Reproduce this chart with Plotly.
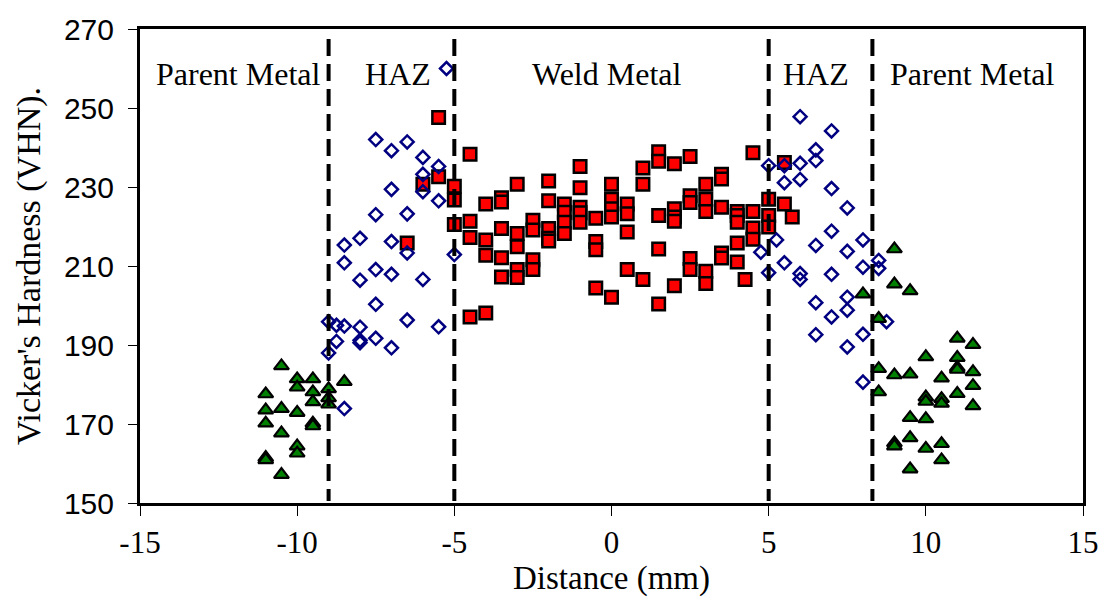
import plotly.graph_objects as go

# ---- data ----
weld_x = [-6.5, -6.0, -5.5, -5.5, -5.0, -5.0, -5.0, -4.5, -4.5, -4.5, -4.5,
          -4.0, -4.0, -4.0, -4.0, -3.5, -3.5, -3.5, -3.5, -3.5,
          -3.0, -3.0, -3.0, -3.0, -3.0, -2.5, -2.5, -2.5, -2.5,
          -2.0, -2.0, -2.0, -2.0, -2.0, -1.5, -1.5, -1.5, -1.5,
          -1.0, -1.0, -1.0, -1.0, -1.0, -0.5, -0.5, -0.5, -0.5,
          0.0, 0.0, 0.0, 0.0, 0.0, 0.5, 0.5, 0.5, 0.5,
          1.0, 1.0, 1.0, 1.5, 1.5, 1.5, 1.5, 1.5,
          2.0, 2.0, 2.0, 2.0, 2.0, 2.5, 2.5, 2.5, 2.5, 2.5,
          3.0, 3.0, 3.0, 3.0, 3.0, 3.5, 3.5, 3.5, 3.5, 3.5,
          4.0, 4.0, 4.0, 4.0, 4.0, 4.5, 4.5, 4.5, 4.5, 4.25,
          5.0, 5.0, 5.0, 5.5, 5.5, 5.75]
weld_y = [215.8, 230.7, 247.6, 232.6, 230.2, 226.7, 220.5, 238.3, 221.3, 217.2, 197.1,
          225.7, 216.6, 212.7, 198.1, 227.3, 226.2, 219.5, 212.1, 207.2,
          230.7, 218.2, 214.9, 209.1, 207.1, 221.6, 219.1, 211.6, 209.1,
          231.5, 226.5, 219.5, 217.0, 216.3, 225.7, 223.6, 221.1, 218.2,
          235.2, 229.8, 224.9, 223.5, 221.1, 222.1, 216.2, 214.1, 204.4,
          230.7, 226.9, 224.5, 222.4, 202.1, 225.7, 223.2, 218.6, 209.1,
          234.8, 230.7, 206.6, 238.9, 236.5, 222.8, 214.3, 200.4,
          235.9, 224.5, 222.4, 221.3, 205.0, 237.7, 227.8, 226.1, 211.9, 209.1,
          230.7, 226.9, 223.8, 208.7, 205.6, 233.2, 232.0, 224.9, 213.3, 212.0,
          223.8, 222.8, 221.1, 215.8, 211.0, 238.7, 223.8, 219.6, 216.8, 206.6,
          226.9, 222.8, 219.9, 236.2, 225.7, 222.4]

haz_x = [-9.0, -9.0, -8.75, -8.75, -8.5, -8.5, -8.5, -8.5,
         -8.0, -8.0, -8.0, -8.0, -8.0, -7.5, -7.5, -7.5, -7.5, -7.5,
         -7.0, -7.0, -7.0, -7.0, -7.0, -6.5, -6.5, -6.5, -6.5,
         -6.0, -6.0, -6.0, -6.0, -5.5, -5.5, -5.5, -5.25, -5.0,
         4.75, 5.0, 5.0, 5.25, 5.5, 5.5, 5.5,
         6.0, 6.0, 6.0, 6.0, 6.0, 6.5, 6.5, 6.5, 6.5, 6.5,
         7.0, 7.0, 7.0, 7.0, 7.0, 7.5, 7.5, 7.5, 7.5, 7.5,
         8.0, 8.0, 8.0, 8.0, 8.5, 8.5, 8.75]
haz_y = [195.9, 188.0, 190.9, 195.0, 215.3, 210.8, 194.8, 173.9,
         217.0, 206.4, 194.5, 191.2, 190.6, 242.0, 223.0, 209.1, 200.3, 191.7,
         239.2, 229.4, 216.2, 207.9, 189.3, 241.4, 223.2, 213.3, 196.3,
         237.5, 233.2, 228.8, 206.6, 235.2, 226.5, 194.6, 260.0, 212.9,
         213.5, 235.4, 208.3, 216.6, 235.4, 231.1, 210.8,
         247.8, 236.0, 231.9, 208.1, 206.6, 239.4, 236.7, 215.2, 200.7, 192.6,
         244.2, 229.6, 218.8, 207.9, 197.1, 224.7, 213.7, 202.1, 198.8, 189.5,
         216.6, 209.7, 192.7, 180.6, 211.4, 209.4, 195.9]

parent_x = [-11.0, -11.0, -11.0, -11.0, -11.0, -10.5, -10.5, -10.5, -10.5,
            -10.0, -10.0, -10.0, -10.0, -10.0, -9.5, -9.5, -9.5, -9.5, -9.5,
            -9.0, -9.0, -9.0, -8.5,
            8.0, 8.5, 8.5, 8.5, 9.0, 9.0, 9.0, 9.0, 9.0,
            9.5, 9.5, 9.5, 9.5, 9.5, 10.0, 10.0, 10.0, 10.0, 10.0,
            10.5, 10.5, 10.5, 10.5, 10.5, 11.0, 11.0, 11.0, 11.0, 11.0,
            11.5, 11.5, 11.5, 11.5]
parent_y = [177.6, 173.5, 170.2, 161.5, 160.9, 184.7, 173.9, 167.7, 157.2,
            181.4, 179.3, 172.9, 164.4, 162.6, 181.4, 178.1, 175.6, 170.2, 169.5,
            178.9, 176.6, 175.0, 180.7,
            202.9, 196.7, 184.0, 178.1, 214.3, 205.4, 182.4, 165.2, 164.4,
            203.7, 182.6, 171.6, 166.5, 158.6, 187.0, 176.8, 175.7, 171.3, 163.8,
            181.6, 176.4, 175.2, 165.0, 160.9, 191.7, 186.8, 184.3, 183.8, 177.7,
            190.1, 183.2, 179.7, 174.6]

zone_boundaries = [-9.0, -5.0, 5.0, 8.3]
zone_labels = ["Parent Metal", "HAZ", "Weld Metal", "HAZ", "Parent Metal"]
zone_label_x = [-11.86, -6.78, -0.16, 6.5, 11.49]

x_ticks = [-15, -10, -5, 0, 5, 10, 15]
y_ticks = [150, 170, 190, 210, 230, 250, 270]

# ---- figure ----
fig = go.Figure()
fig.add_trace(go.Scatter(x=weld_x, y=weld_y, mode="markers", name="Weld Metal",
                         marker=dict(symbol="square", size=12.5, color="#FF0000",
                                     line=dict(color="black", width=2.5))))
fig.add_trace(go.Scatter(x=haz_x, y=haz_y, mode="markers", name="HAZ",
                         marker=dict(symbol="diamond-open", size=10, color="#000080",
                                     line=dict(color="#000080", width=2.5))))
fig.add_trace(go.Scatter(x=parent_x, y=parent_y, mode="markers", name="Parent Metal",
                         marker=dict(symbol="triangle-up", size=13, color="#008000",
                                     line=dict(color="black", width=2.2))))

for b in zone_boundaries:
    fig.add_shape(type="line", x0=b, x1=b, y0=267.5, y1=150.5, xref="x", yref="y",
                  line=dict(color="black", width=4, dash="17px,8px"), layer="above")

for lab, lx in zip(zone_labels, zone_label_x):
    fig.add_annotation(x=lx, y=258.6, xref="x", yref="y", text=lab, showarrow=False,
                       font=dict(family="Liberation Serif", size=32, color="black"),
                       xanchor="center", yanchor="middle")

fig.update_layout(
    width=1112, height=601,
    margin=dict(l=140, r=29, t=20, b=98),
    paper_bgcolor="white", plot_bgcolor="white",
    showlegend=False,
    xaxis=dict(range=[-15, 15], tickvals=x_ticks, ticktext=[str(v) for v in x_ticks],
               showgrid=False, zeroline=False, showline=True, linecolor="black",
               linewidth=3, mirror=True, ticks="outside", ticklen=10, tickwidth=1,
               tickcolor="black",
               tickfont=dict(family="Liberation Serif", size=31, color="black"),
               title=dict(text="Distance (mm)", standoff=2,
                          font=dict(family="Liberation Serif", size=33, color="black"))),
    yaxis=dict(range=[150, 270], tickvals=y_ticks, ticktext=[str(v) for v in y_ticks],
               showgrid=False, zeroline=False, showline=True, linecolor="black",
               linewidth=3, mirror=True, ticks="outside", ticklen=9, tickwidth=1,
               tickcolor="black", ticklabelstandoff=8,
               tickfont=dict(family="Liberation Sans", size=30, color="black"),
               title=dict(text="Vicker's Hardness (VHN).", standoff=14,
                          font=dict(family="Liberation Serif", size=34, color="black"))),
)

fig.write_html("out.html")
